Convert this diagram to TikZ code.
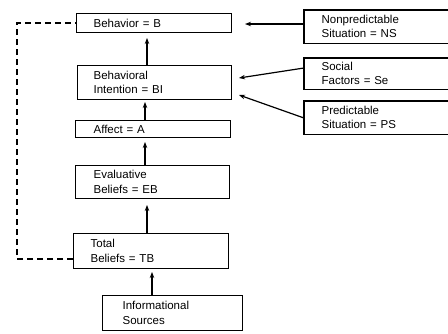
\documentclass[tikz,border=0pt]{standalone}
\usepackage{fontspec}
\setmainfont{Liberation Sans}
\usetikzlibrary{arrows.meta}
\begin{document}
\begin{tikzpicture}[x=1pt,y=-1pt,
  box/.style={draw, line width=1.2pt, anchor=north west, inner ysep=0pt, align=left,
    font=\fontsize{11.5}{14.5}\selectfont},
  rbox/.style={box, draw=none, inner xsep=17pt, text width=220pt},
  rline/.style={line width=1.2pt},
  arr/.style={line width=1.2pt, -{Stealth[length=6pt,width=4.5pt]}},
  dashline/.style={line width=1.3pt, dash pattern=on 6pt off 4pt}]
\useasboundingbox (0,0) rectangle (448,333);
\begin{scope}
\clip (0,0) rectangle (448,333);
\node[box, inner xsep=17pt, text width=121pt, minimum height=19pt] (B) at (76,13) {Behavior = B};
\node[box, inner xsep=16pt, text width=122pt, minimum height=34pt] (BI) at (77,65) {Behavioral\\Intention = BI};
\node[box, inner xsep=18pt, text width=119pt, minimum height=17pt] (A) at (75,120) {Affect = A};
\node[box, inner xsep=18pt, text width=118pt, minimum height=33pt] (EB) at (75,165) {Evaluative\\Beliefs = EB};
\node[box, inner xsep=17pt, text width=121pt, minimum height=35pt] (TB) at (73,233) {Total\\Beliefs = TB};
\node[box, inner xsep=20pt, text width=100pt, minimum height=35pt] (IS) at (102,295) {Informational\\Sources};
\node[rbox, minimum height=32pt] (NS) at (304,10) {Nonpredictable\\Situation = NS};
\node[rbox, minimum height=30pt] (SF) at (304,58) {Social\\Factors = Se};
\node[rbox, minimum height=32pt] (PS) at (304,101) {Predictable\\Situation = PS};
\draw[rline] (NS.north east) -- (NS.north west) -- (NS.south west) -- (NS.south east);
\draw[rline] (SF.north east) -- (SF.north west) -- (SF.south west) -- (SF.south east);
\draw[rline] (PS.north east) -- (PS.north west) -- (PS.south west) -- (PS.south east);
\end{scope}
\coordinate (bl) at (17,259);
\coordinate (tl) at (17,23);
\draw[arr] (IS.north -| 152,0) -- (152,272);
\draw[arr] (TB.north -| 147,0) -- (147,205);
\draw[arr] (EB.north -| 145,0) -- (145,142);
\draw[arr] (A.north -| 145,0) -- (145,102);
\draw[arr] (BI.north -| 147,0) -- (147,38);
\draw[arr] (NS.west |- 0,24) -- (245,24);
\draw[arr] (SF.west |- 0,68) -- (239,78);
\draw[arr] (PS.west |- 0,118) -- (239,95);
\draw[dashline] (TB.west |- bl) -- (bl) -- (tl) -- (B.west |- tl);
\end{tikzpicture}
\end{document}
